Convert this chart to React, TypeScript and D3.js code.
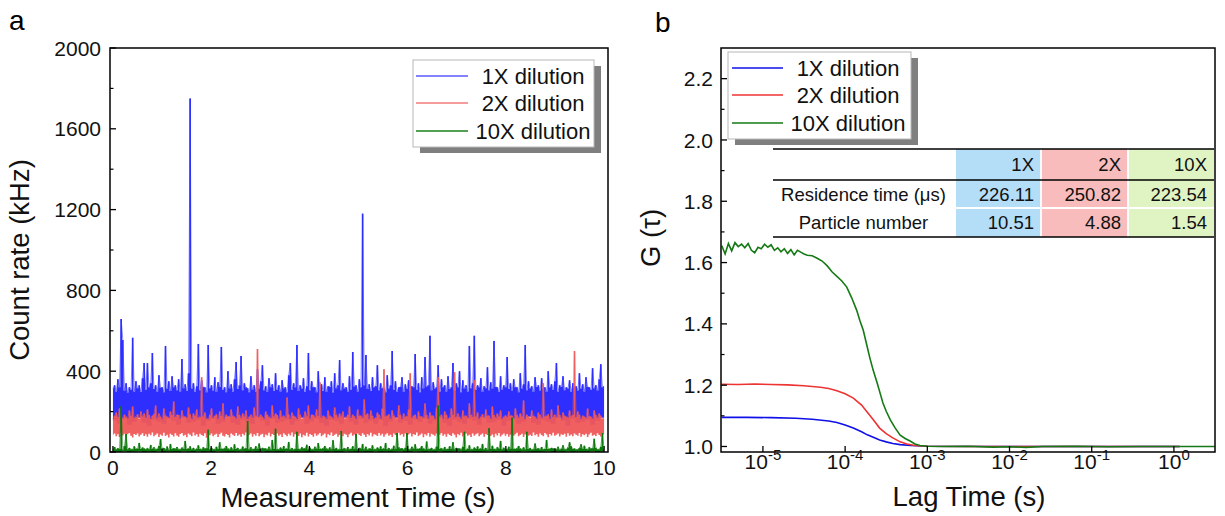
import React from "react";
import * as d3 from "d3";

// ---------- Panel a: count-rate traces (kHz), evenly sampled bins over 0-10 s ----------
// per-bin maxima
const blueRate = [
  315,330,300,360,320,658,555,305,340,295,320,310,565,300,350,315,330,298,365,440,
  308,440,320,340,490,312,330,300,380,318,320,296,525,314,350,302,375,320,330,306,
  360,300,460,315,335,302,390,1750,314,340,298,325,535,306,355,320,320,296,530,315,
  330,304,370,298,345,322,520,308,320,296,400,316,335,300,360,445,312,330,475,306,
  340,320,315,296,375,310,330,300,410,314,350,430,306,325,298,365,320,335,302,390,
  310,330,300,355,316,320,296,380,440,308,340,320,530,302,330,314,365,298,325,490,
  306,350,320,320,296,400,314,335,302,370,298,325,322,350,294,390,316,330,455,306,
  340,314,320,298,375,308,495,324,330,300,360,320,1180,330,480,312,335,302,370,320,
  325,430,306,340,316,315,296,380,314,330,500,308,350,300,320,322,370,298,335,314,
  355,302,325,320,485,308,340,296,370,316,470,324,330,575,306,345,314,320,430,300,
  360,320,330,300,375,312,320,440,304,340,320,400,296,355,314,330,300,525,316,340,
  575,308,330,320,365,298,325,316,420,306,345,314,550,322,320,298,375,308,330,320,
  470,312,340,304,360,320,320,296,390,314,335,530,306,350,316,325,298,370,322,330,
  304,365,316,320,298,400,320,335,308,350,440,300,330,322,375,306,320,314,355,298,
  340,320,325,304,390,314,335,300,370,322,320,308,415,316,330,304,360,435,320,325,
];
const redRate = [
  165,180,195,173,215,185,163,185,175,167,205,181,225,170,175,187,165,200,177,190,
  171,210,183,165,180,189,230,167,190,175,163,215,181,175,169,200,185,250,173,185,
  183,165,205,177,175,169,220,187,163,190,179,210,171,175,370,177,195,165,165,185,
  215,171,180,187,163,200,179,240,165,185,175,173,210,181,175,167,225,183,169,190,
  177,205,165,175,185,171,220,179,510,173,185,175,163,200,185,175,167,230,177,190,
  183,165,205,175,180,169,270,187,165,195,179,175,163,215,185,165,171,200,177,230,
  165,185,183,173,210,179,345,169,180,175,163,205,181,175,167,220,185,171,190,177,
  200,165,175,185,225,169,185,177,163,210,179,180,171,260,183,190,165,205,179,165,
  169,195,185,165,215,410,177,180,187,163,205,181,170,167,230,185,165,190,175,177,
  210,390,169,180,185,163,200,177,175,171,240,183,165,195,179,180,163,220,370,177,
  185,165,200,185,165,171,215,183,395,173,190,175,163,205,177,180,169,240,185,175,
  356,177,195,165,175,187,169,210,179,180,163,225,183,169,190,177,205,165,175,181,
  173,200,179,180,163,215,185,169,190,177,255,165,185,175,171,205,179,175,165,195,
  185,169,340,177,180,187,163,210,175,185,169,230,183,165,195,179,175,171,205,177,
  185,500,173,200,185,165,180,175,169,215,177,175,163,205,183,171,190,179,165,169,
];
const greenRate = [
  14,25,13,18,15,228,12,30,89,14,20,14,13,28,16,16,45,15,22,17,
  13,19,13,35,15,24,14,15,30,64,16,20,13,27,12,40,15,18,16,25,
  14,13,22,16,55,15,17,28,13,20,12,16,33,15,14,24,17,18,110,14,
  21,13,14,26,16,48,16,15,19,30,17,14,23,14,38,15,20,12,14,27,
  16,18,153,14,24,13,15,29,15,42,14,20,17,17,13,26,12,60,16,115,
  14,13,22,16,30,15,17,50,13,20,12,16,100,15,14,24,17,18,36,14,
  21,13,14,26,16,44,16,15,19,30,17,14,23,14,58,15,20,12,14,104,
  16,18,14,25,13,15,29,15,89,14,20,17,40,13,26,12,17,16,33,14,
  14,22,16,28,15,17,45,13,20,12,16,31,15,94,24,17,18,14,21,94,
  13,14,26,16,38,16,15,19,30,17,14,52,14,15,20,12,14,27,230,16,
  18,14,25,13,15,29,15,48,14,20,17,17,13,26,100,12,16,33,14,14,
  22,16,28,15,17,40,13,20,12,118,16,31,15,14,24,17,55,14,21,13,
  13,26,16,170,16,15,19,30,17,14,23,14,100,15,20,12,14,42,16,18,
  14,25,13,15,60,15,16,20,17,17,13,26,12,16,33,14,14,22,48,28,
  15,17,12,13,20,38,16,31,15,14,24,17,18,65,21,13,14,26,94,16,
];
// per-bin minima (blue and green: one value per 3 bins; red: one per bin)
const blueLow = [
  155,140,165,135,150,170,145,130,160,150, 140,165,155,135,170,145,150,160,130,155,
  165,140,150,175,145,135,160,150,140,170, 155,130,165,145,150,160,135,155,170,140,
  150,165,145,130,160,155,140,170,150,135, 165,145,155,140,160,130,150,170,145,155,
  135,160,150,165,140,155,170,145,130,160, 150,140,165,155,135,170,145,150,160,130,
  155,165,140,150,175,145,135,160,150,140, 170,155,130,165,145,150,160,135,155,170,
];
const redLow = [
  85,92,78,88,74,95,82,90,76,88,94,80,72,89,84,91,77,86,93,79,
  88,75,90,83,96,78,85,92,74,87,81,95,79,86,72,90,84,77,93,82,
  76,89,94,80,86,73,91,85,78,96,82,88,75,90,84,79,93,71,87,83,
  92,78,85,90,74,88,95,81,77,89,84,72,91,86,79,94,80,87,75,90,
  83,96,79,86,92,75,88,81,94,78,85,90,73,87,82,95,77,89,84,76,
  91,80,87,74,93,85,78,90,82,96,76,88,84,79,92,73,86,81,95,77,
  89,84,75,92,80,87,94,78,85,91,72,88,83,96,79,86,90,76,84,93,
  78,90,85,73,88,95,81,87,76,92,84,79,93,86,74,89,82,95,77,88,
  85,79,94,82,90,76,87,93,80,86,74,91,84,78,95,83,89,75,92,81,
  87,93,77,89,84,96,79,85,91,73,88,82,94,76,90,86,80,92,78,85,
  94,81,88,75,90,84,79,93,86,72,89,83,95,77,87,91,80,85,74,92,
  80,88,93,78,85,91,76,89,84,96,79,87,73,90,82,94,77,86,92,81,
  89,75,86,92,80,88,95,78,84,90,74,87,93,81,85,79,96,83,88,76,
  91,84,78,94,87,73,89,82,95,80,86,92,77,88,84,90,75,93,81,87,
  78,92,85,80,94,76,88,83,90,74,87,95,81,86,79,93,84,77,91,85,
];
const greenLow = [
  1,0,2,0,1,3,0,1,0,2, 0,1,0,0,2,1,0,3,0,1, 0,2,1,0,0,1,3,0,1,0, 2,0,1,0,0,2,1,0,1,0,
  0,1,2,0,1,0,0,3,1,0, 1,0,0,2,0,1,0,1,2,0, 0,3,1,0,1,0,2,0,0,1, 2,0,1,0,0,1,3,0,1,0,
  0,1,0,2,1,0,0,1,2,0, 1,0,3,0,1,0,0,2,0,1,
];
const traceDuration = 10;
const timeTicks = [0, 2, 4, 6, 8, 10];
const timeMinorTicks = [1, 3, 5, 7, 9];
const rateTicks = [0, 400, 800, 1200, 1600, 2000];
const rateMinorTicks = [200, 600, 1000, 1400, 1800];
const dilutionLabels = ["1X dilution", "2X dilution", "10X dilution"];

// ---------- Panel b: autocorrelation G(tau); lag given as log10(seconds) ----------
const lagExpBlue = [-5.5,-5.2,-4.9,-4.6,-4.4,-4.2,-4.1,-4.0,-3.9,-3.8,-3.73,-3.65,-3.58,-3.5,-3.42,-3.33,-3.2,-3.0,-2.0,-1.0,0.07];
const gBlue =      [1.095,1.095,1.094,1.092,1.089,1.083,1.078,1.070,1.060,1.048,1.038,1.029,1.021,1.015,1.010,1.006,1.003,1.001,1.000,1.000,1.000];
const lagExpRed = [-5.5,-5.3,-5.1,-4.9,-4.7,-4.5,-4.3,-4.2,-4.1,-4.0,-3.9,-3.8,-3.73,-3.65,-3.58,-3.5,-3.42,-3.33,-3.25,-3.15,-3.0,-2.5,-2.0,-1.0,0.07];
const gRed =      [1.203,1.202,1.204,1.202,1.201,1.198,1.193,1.189,1.182,1.172,1.158,1.135,1.112,1.085,1.060,1.042,1.028,1.015,1.008,1.003,1.001,1.000,1.000,1.000,1.000];
const lagExpGreen = [
  -5.50,-5.46,-5.42,-5.38,-5.34,-5.30,-5.26,-5.22,-5.18,-5.14,-5.10,-5.06,-5.02,-4.98,-4.94,-4.90,-4.86,-4.82,-4.78,-4.74,
  -4.70,-4.66,-4.62,-4.58,-4.54,-4.50,-4.46,-4.40,-4.34,-4.28,-4.22,-4.16,-4.10,-4.04,-3.98,-3.92,-3.86,-3.82,-3.78,-3.74,
  -3.70,-3.66,-3.61,-3.57,-3.54,-3.50,-3.45,-3.39,-3.33,-3.27,-3.21,-3.15,-3.09,-3.00,-2.8,-2.5,-2.2,-2.0,-1.8,-1.6,-1.2,-0.8,-0.4,0.0,0.5,
];
const gGreen = [
  1.655,1.628,1.662,1.638,1.665,1.652,1.660,1.648,1.662,1.640,1.632,1.650,1.645,1.660,1.650,1.658,1.640,1.648,1.635,1.645,
  1.630,1.642,1.625,1.640,1.634,1.628,1.624,1.622,1.614,1.605,1.590,1.570,1.555,1.540,1.520,1.485,1.445,1.410,1.380,1.335,
  1.290,1.250,1.207,1.170,1.142,1.115,1.087,1.060,1.037,1.026,1.018,1.008,1.003,1.001,1.000,1.001,0.998,0.999,0.997,1.000,1.001,0.999,1.000,1.000,1.000,
];
const gTicks = [1.0, 1.2, 1.4, 1.6, 1.8, 2.0, 2.2];
const gMinorTicks = [1.1, 1.3, 1.5, 1.7, 1.9, 2.1];
const lagTickExps = [-5, -4, -3, -2, -1, 0];

// ---------- Table ----------
const tableCols = ["1X", "2X", "10X"];
const tableRowLabels = ["Residence time (μs)", "Particle number"];
const residenceTimes = ["226.11", "250.82", "223.54"];
const particleNumbers = ["10.51", "4.88", "1.54"];

const FONT = "'Liberation Sans', Arial, Helvetica, sans-serif";
const traceColors = ["#2e2eff", "#f05858", "#0b780b"];
const legendColorsA = ["#5a5aff", "#f27a7a", "#1a7f1a"];
const curveColors = ["#1010e8", "#ee3333", "#157a15"];
const cellColors = ["#b4ddf8", "#f8bcbc", "#dff4c2"];

function Legend({ x, y, w, h, colors, lineX0, lineX1, textX, rowYs }: any) {
  return (
    <g>
      <rect x={x + 7} y={y + 6} width={w} height={h} fill="#7f7f7f" />
      <rect x={x} y={y} width={w} height={h} fill="#fff" stroke="#b8b8b8" strokeWidth={1} />
      {dilutionLabels.map((lab, i) => (
        <g key={lab}>
          <line x1={lineX0} x2={lineX1} y1={rowYs[i]} y2={rowYs[i]} stroke={colors[i]} strokeWidth={1.5} />
          <text x={textX} y={rowYs[i]} dy="0.36em" textAnchor="middle" fontSize={22} fontFamily={FONT} fill="#111">
            {lab}
          </text>
        </g>
      ))}
    </g>
  );
}

export default function App() {
  // Panel a scales
  const xa = d3.scaleLinear().domain([-0.06, 10.08]).range([110, 608]);
  const ya = d3.scaleLinear().domain([0, 2000]).range([452, 48]);
  const n = blueRate.length;
  const dt = traceDuration / (n - 1);
  // decimated trace: a step band from bin minimum to bin maximum
  const band = (high: number[], low: number[]) => {
    const f = high.length / low.length;
    return d3
      .area<number>()
      .curve(d3.curveStep)
      .x((_, i) => xa(i * dt))
      .y0((_, i) => ya(low[Math.floor(i / f)]))
      .y1((d) => ya(d))(high) as string;
  };
  const spikes = (high: number[]) =>
    d3
      .line<number>()
      .x((_, i) => xa(i * dt))
      .y((d) => ya(d))(high) as string;

  // Panel b scales
  const xb = d3.scaleLog().domain([Math.pow(10, -5.51), Math.pow(10, 0.5)]).range([721, 1215]);
  const yb = d3.scaleLinear().domain([0.982, 2.3]).range([452, 48]);
  const curve = (exps: number[], gs: number[]) =>
    d3
      .line<number>()
      .x((_, i) => xb(Math.pow(10, exps[i])))
      .y((d) => yb(d))(gs) as string;

  const aL = 110, aR = 608, aT = 48, aB = 452;
  const bL = 721, bR = 1215, bT = 48, bB = 452;

  // table layout
  const colX = [773, 956, 1041, 1128, 1214];
  const rowY = [149, 180, 208, 237];

  const series = [
    { high: blueRate, low: blueLow, color: traceColors[0], op: 1 },
    { high: redRate, low: redLow, color: traceColors[1], op: 0.95 },
    { high: greenRate, low: greenLow, color: traceColors[2], op: 1 },
  ];

  return (
    <svg width={1225} height={516} style={{ position: "absolute", left: 0, top: 0, background: "#fff" }}>
      <defs>
        <clipPath id="clipA">
          <rect x={aL} y={aT} width={aR - aL} height={aB - aT} />
        </clipPath>
      </defs>
      <rect x={0} y={0} width={1225} height={516} fill="#fff" />

      {/* ---------- Panel a ---------- */}
      <text x={9} y={30} fontSize={28} fontFamily={FONT}>a</text>
      <g clipPath="url(#clipA)">
        {series.map((s, k) => (
          <g key={k} opacity={s.op}>
            <path d={band(s.high, s.low)} fill={s.color} />
            <path d={spikes(s.high)} fill="none" stroke={s.color} strokeWidth={0.8} strokeOpacity={0.7} />
          </g>
        ))}
      </g>
      <rect x={aL} y={aT} width={aR - aL} height={aB - aT} fill="none" stroke="#000" strokeWidth={1.5} />
      {rateTicks.map((v) => (
        <g key={v}>
          <line x1={aL} x2={aL + 6} y1={ya(v)} y2={ya(v)} stroke="#000" strokeWidth={1.3} />
          <text x={101} y={ya(v)} dy="0.36em" textAnchor="end" fontSize={21} fontFamily={FONT} fill="#111">
            {v}
          </text>
        </g>
      ))}
      {rateMinorTicks.map((v) => (
        <line key={v} x1={aL} x2={aL + 3.5} y1={ya(v)} y2={ya(v)} stroke="#000" strokeWidth={1.2} />
      ))}
      {timeTicks.map((v) => (
        <g key={v}>
          <line x1={xa(v)} x2={xa(v)} y1={aB} y2={aB - 6} stroke="#000" strokeWidth={1.3} />
          <text x={xa(v)} y={475} textAnchor="middle" fontSize={21} fontFamily={FONT} fill="#111">
            {v}
          </text>
        </g>
      ))}
      {timeMinorTicks.map((v) => (
        <line key={v} x1={xa(v)} x2={xa(v)} y1={aB} y2={aB - 3.5} stroke="#000" strokeWidth={1.2} />
      ))}
      <text x={358} y={507} textAnchor="middle" fontSize={27.5} fontFamily={FONT} fill="#111">
        Measurement Time (s)
      </text>
      <text transform={`translate(29,${(aT + aB) / 2 + 10}) rotate(-90)`} textAnchor="middle" fontSize={27.5} fontFamily={FONT} fill="#111">
        Count rate (kHz)
      </text>
      <Legend x={413} y={60} w={181} h={87} colors={legendColorsA} lineX0={416} lineX1={468} textX={533} rowYs={[76, 103, 131]} />

      {/* ---------- Panel b ---------- */}
      <text x={655} y={32} fontSize={28} fontFamily={FONT}>b</text>
      <path d={curve(lagExpBlue, gBlue)} fill="none" stroke={curveColors[0]} strokeWidth={1.6} />
      <path d={curve(lagExpRed, gRed)} fill="none" stroke={curveColors[1]} strokeWidth={1.6} />
      <path d={curve(lagExpGreen, gGreen)} fill="none" stroke={curveColors[2]} strokeWidth={1.6} />
      <rect x={bL} y={bT} width={bR - bL} height={bB - bT} fill="none" stroke="#000" strokeWidth={1.5} />
      {gTicks.map((v) => (
        <g key={v}>
          <line x1={bL} x2={bL + 6} y1={yb(v)} y2={yb(v)} stroke="#000" strokeWidth={1.3} />
          <text x={713} y={yb(v)} dy="0.36em" textAnchor="end" fontSize={21} fontFamily={FONT} fill="#111">
            {v.toFixed(1)}
          </text>
        </g>
      ))}
      {gMinorTicks.map((v) => (
        <line key={v} x1={bL} x2={bL + 3.5} y1={yb(v)} y2={yb(v)} stroke="#000" strokeWidth={1.2} />
      ))}
      {lagTickExps.map((e) => (
        <g key={e}>
          <line x1={xb(Math.pow(10, e))} x2={xb(Math.pow(10, e))} y1={bB} y2={bB - 6} stroke="#000" strokeWidth={1.3} />
          <text x={xb(Math.pow(10, e))} y={469} textAnchor="middle" fontSize={21} fontFamily={FONT} fill="#111">
            <tspan>10</tspan>
            <tspan dy={-9} fontSize={15}>{String(e)}</tspan>
          </text>
        </g>
      ))}
      <text x={969} y={506} textAnchor="middle" fontSize={27.5} fontFamily={FONT} fill="#111">
        Lag Time (s)
      </text>
      <text transform={`translate(660,238) rotate(-90)`} textAnchor="middle" fontSize={27.5} fontFamily={FONT} fill="#111">
        G (τ)
      </text>
      <Legend x={728} y={52} w={183} h={87} colors={curveColors} lineX0={732} lineX1={783} textX={848} rowYs={[68, 95, 123]} />

      {/* ---------- Table ---------- */}
      <g fontFamily={FONT} fontSize={18.5} fill="#111">
        {tableCols.map((c, j) => (
          <rect key={c} x={colX[j + 1]} y={rowY[0]} width={colX[j + 2] - colX[j + 1]} height={rowY[3] - rowY[0]} fill={cellColors[j]} />
        ))}
        {tableCols.slice(1).map((c, j) => (
          <line key={c} x1={colX[j + 2]} x2={colX[j + 2]} y1={rowY[0]} y2={rowY[3]} stroke="#fff" strokeWidth={1.8} />
        ))}
        <line x1={colX[1]} x2={colX[4]} y1={rowY[2]} y2={rowY[2]} stroke="#fff" strokeWidth={1.8} />
        <line x1={colX[0]} x2={colX[4]} y1={rowY[0]} y2={rowY[0]} stroke="#000" strokeWidth={1.5} />
        <line x1={colX[0]} x2={colX[4]} y1={rowY[1]} y2={rowY[1]} stroke="#000" strokeWidth={1.5} />
        <line x1={colX[0]} x2={colX[4]} y1={rowY[3]} y2={rowY[3]} stroke="#000" strokeWidth={1.5} />
        {tableCols.map((c, j) => (
          <text key={c} x={colX[j + 2] - 7} y={(rowY[0] + rowY[1]) / 2} dy="0.36em" textAnchor="end">
            {c}
          </text>
        ))}
        {tableRowLabels.map((lab, r) => (
          <text key={lab} x={(colX[0] + colX[1]) / 2 - 1} y={(rowY[r + 1] + rowY[r + 2]) / 2} dy="0.36em" textAnchor="middle">
            {lab}
          </text>
        ))}
        {residenceTimes.map((v, j) => (
          <text key={"r" + j} x={colX[j + 2] - 7} y={(rowY[1] + rowY[2]) / 2} dy="0.36em" textAnchor="end">
            {v}
          </text>
        ))}
        {particleNumbers.map((v, j) => (
          <text key={"p" + j} x={colX[j + 2] - 7} y={(rowY[2] + rowY[3]) / 2} dy="0.36em" textAnchor="end">
            {v}
          </text>
        ))}
      </g>
    </svg>
  );
}
